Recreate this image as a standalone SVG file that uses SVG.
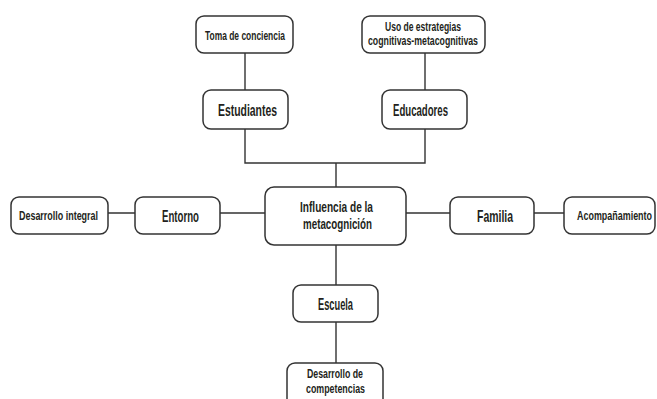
<svg xmlns="http://www.w3.org/2000/svg" width="657" height="399" viewBox="0 0 657 399">
<style>
.box{fill:#fff;stroke:#333;stroke-width:1.5}
.ln{fill:none;stroke:#333;stroke-width:1.4}
text{font-family:"Liberation Sans",Arial,sans-serif;font-weight:bold;fill:#231f20;text-anchor:middle}
.s{font-size:12px}
.b{font-size:17px}
.m{font-size:15px}
</style>
<rect width="657" height="399" fill="#fff"/>
<g id="connectors">
<path class="ln" d="M245 53V90M425 53V90M245 129V163H425V129M336 163V187M108 213H135M220 213H265M406 213H450M534 213H564M336 245V285M336 322V363"/>
</g>
<g id="toma"><rect class="box" x="196" y="16" width="97" height="37" rx="8"/><text class="s" x="245" y="40" textLength="80" lengthAdjust="spacingAndGlyphs">Toma de conciencia</text></g>
<g id="uso"><rect class="box" x="362" y="16" width="123" height="37" rx="8"/><text class="s"><tspan x="423" y="30.5" textLength="76" lengthAdjust="spacingAndGlyphs">Uso de estrategias</tspan><tspan x="423" y="45" textLength="110" lengthAdjust="spacingAndGlyphs">cognitivas-metacognitivas</tspan></text></g>
<g id="estudiantes"><rect class="box" x="203" y="90" width="85" height="39" rx="8"/><text class="b" x="247.5" y="116" textLength="59" lengthAdjust="spacingAndGlyphs">Estudiantes</text></g>
<g id="educadores"><rect class="box" x="382" y="90" width="85" height="39" rx="8"/><text class="b" x="420.5" y="116" textLength="55" lengthAdjust="spacingAndGlyphs">Educadores</text></g>
<g id="desarrollo-integral"><rect class="box" x="11" y="197" width="97" height="37" rx="8"/><text class="s" x="58.5" y="220" textLength="79" lengthAdjust="spacingAndGlyphs">Desarrollo integral</text></g>
<g id="entorno"><rect class="box" x="135" y="197" width="85" height="37" rx="8"/><text class="b" x="180.5" y="222" textLength="37" lengthAdjust="spacingAndGlyphs">Entorno</text></g>
<g id="influencia"><rect class="box" x="265" y="187" width="141" height="58" rx="9"/><text class="m"><tspan x="336.5" y="212" textLength="73" lengthAdjust="spacingAndGlyphs">Influencia de la</tspan><tspan x="337.5" y="229" textLength="69" lengthAdjust="spacingAndGlyphs">metacognición</tspan></text></g>
<g id="familia"><rect class="box" x="450" y="197" width="84" height="37" rx="8"/><text class="b" x="495" y="222" textLength="36" lengthAdjust="spacingAndGlyphs">Familia</text></g>
<g id="acompanamiento"><rect class="box" x="564" y="197" width="91" height="37" rx="8"/><text class="s" transform="translate(614.5 220) scale(0.745 1)" x="0" y="0">Acompañamiento</text></g>
<g id="escuela"><rect class="box" x="293" y="285" width="85" height="37" rx="8"/><text class="b" x="335.5" y="310" textLength="35" lengthAdjust="spacingAndGlyphs">Escuela</text></g>
<g id="desarrollo-competencias"><rect class="box" x="287" y="363" width="96" height="44" rx="8"/><text class="s"><tspan x="335" y="378" textLength="56" lengthAdjust="spacingAndGlyphs">Desarrollo de</tspan><tspan x="335.5" y="393" textLength="59" lengthAdjust="spacingAndGlyphs">competencias</tspan></text></g>
</svg>
